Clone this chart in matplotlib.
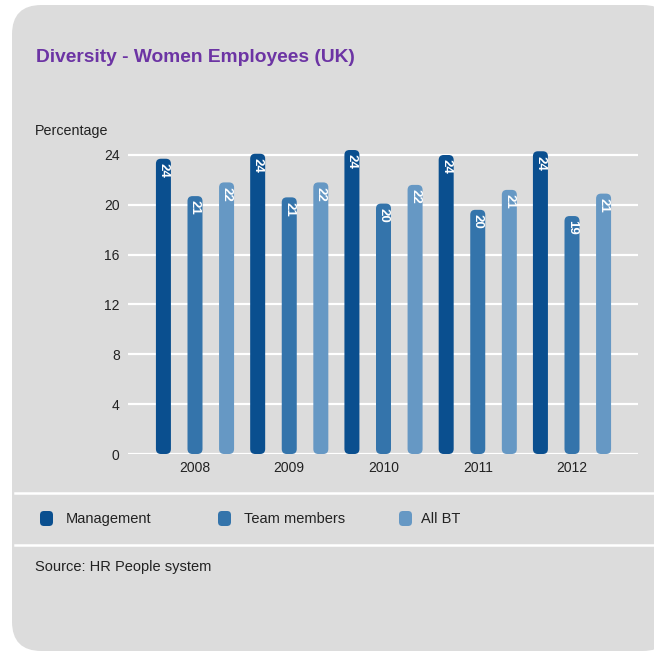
import numpy as np
import matplotlib.pyplot as plt
from matplotlib.patches import FancyBboxPatch
from matplotlib.lines import Line2D

plt.rcParams['font.family'] = ['Liberation Sans', 'DejaVu Sans']

years = ['2008', '2009', '2010', '2011', '2012']
management = [23.7, 24.1, 24.4, 24.0, 24.3]
team_members = [20.7, 20.6, 20.1, 19.6, 19.1]
all_bt = [21.8, 21.8, 21.6, 21.2, 20.9]
series_names = ['Management', 'Team members', 'All BT']
yticks = [0, 4, 8, 12, 16, 20, 24]

colors = ['#0a4f8f', '#3474ab', '#6698c4']
panel_grey = '#dcdcdc'
text_col = '#222222'

W, H = 654, 657
fig = plt.figure(figsize=(W / 100, H / 100), dpi=100)
fig.patch.set_facecolor('white')

def fx(px):
    return px / W

def fy(py):
    return 1 - py / H

# grey rounded card behind everything
card = FancyBboxPatch((fx(12), fy(651)), 660 / W, 646 / H,
                      boxstyle='round,pad=0,rounding_size=0.045',
                      transform=fig.transFigure, facecolor=panel_grey,
                      edgecolor='none', mutation_aspect=W / H, zorder=-5)
fig.patches.append(card)

# axes: y=0 at 454px, 24 at 155px; groups spaced ~94.25px
px_per_unit = (454 - 155) / 24
y_top = 25.3
ax = fig.add_axes([fx(128), fy(454), fx(638) - fx(128), y_top * px_per_unit / H])
ax.set_facecolor('none')
ax.set_xlim((128 - 195) / 94.25, (638 - 195) / 94.25)
ax.set_ylim(0, y_top)
for s in ax.spines.values():
    s.set_visible(False)
ax.set_yticks(yticks)
ax.set_yticklabels([str(t) for t in yticks], fontsize=10, color=text_col)
ax.tick_params(axis='y', length=0, pad=6)
ax.tick_params(axis='x', length=0, pad=5)
x = np.arange(len(years))
ax.set_xticks(x)
ax.set_xticklabels(years, fontsize=10, color=text_col)
for t in yticks:
    ax.axhline(t, color='white', lw=1.6, zorder=1)

# rounded bars
bar_w = 15 / 94.25
offsets = [-0.335, 0.0, 0.335]
x_per_px = 1 / 94.25
y_per_px = 1 / px_per_unit
aspect = y_per_px / x_per_px
for vals, off, c in zip([management, team_members, all_bt], offsets, colors):
    for xi, v in zip(x, vals):
        left = xi + off - bar_w / 2
        p = FancyBboxPatch((left, 0), bar_w, v,
                           boxstyle='round,pad=0,rounding_size=%f' % (5 * x_per_px),
                           mutation_aspect=aspect, facecolor=c,
                           edgecolor='none', zorder=3)
        ax.add_patch(p)
        ax.text(xi + off, v - 0.35, '%.0f' % v, rotation=270, ha='center',
                va='top', color='white', fontsize=9.5, fontweight='bold', zorder=4)

# title and axis caption
fig.text(fx(36), fy(57), 'Diversity - Women Employees (UK)', fontsize=13.8,
         fontweight='bold', color='#6c34a4', va='center', ha='left')
fig.text(fx(35), fy(131), 'Percentage', fontsize=10.3, color=text_col,
         va='center', ha='left')

# separator lines
for py in (493, 545):
    fig.add_artist(Line2D([fx(15), 1], [fy(py), fy(py)], color='white', lw=1.8,
                          transform=fig.transFigure))

# legend row
legend_x = [(40, 66), (218, 244), (399, 421)]
for (sx, tx), name, c in zip(legend_x, series_names, colors):
    sq = FancyBboxPatch((fx(sx), fy(526)), fx(13), 15 / H,
                        boxstyle='round,pad=0,rounding_size=0.006',
                        transform=fig.transFigure, facecolor=c,
                        edgecolor='none', mutation_aspect=W / H)
    fig.patches.append(sq)
    fig.text(fx(tx), fy(519), name, fontsize=10.5, color=text_col,
             va='center', ha='left')

fig.text(fx(35), fy(567), 'Source: HR People system', fontsize=10.5,
         color=text_col, va='center', ha='left')

fig.savefig('out.png', dpi=100, facecolor=fig.get_facecolor())
